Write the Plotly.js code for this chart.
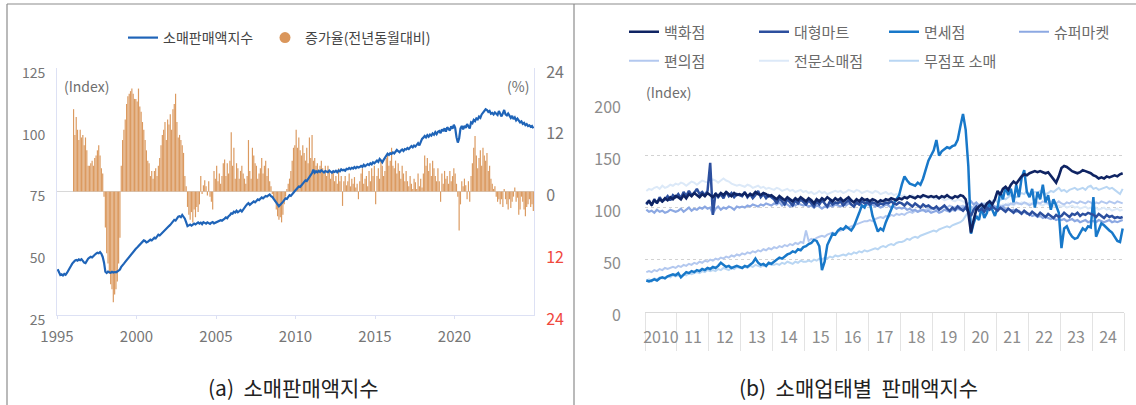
<!DOCTYPE html>
<html>
<head>
<meta charset="utf-8">
<script src="https://cdn.plot.ly/plotly-3.0.1.min.js"></script>
<style>
  html, body { margin: 0; padding: 0; background: #ffffff; }
  #chart { width: 1136px; height: 405px; }
</style>
</head>
<body>
<div id="chart"></div>
<script>
// ---------------- Panel (a): retail sales index (monthly, 1995-01 .. 2024-12) ----------------
const leftStartYear = 1995;
const retailIndex = [
  43.5, 42.0, 41.2, 41.5, 41.0, 41.6, 41.3, 42.0, 42.8, 43.5, 44.8, 45.8,
  46.5, 47.0, 47.3, 47.0, 47.5, 47.2, 47.6, 46.8, 46.2, 46.0, 47.0, 47.8,
  48.2, 48.6, 48.3, 49.0, 49.4, 49.8, 50.2, 50.0, 50.5, 49.8, 48.5, 46.2,
  42.5, 42.0, 42.6, 42.3, 42.1, 42.5, 42.2, 42.4, 42.3, 42.6, 43.0, 43.4,
  44.5, 45.0, 45.8, 46.5, 47.2, 47.8, 48.5, 49.0, 49.8, 50.6, 51.2, 51.8,
  52.3, 52.8, 53.5, 53.9, 54.6, 55.2, 55.0, 54.4, 54.6, 55.2, 55.5, 55.2,
  55.8, 56.3, 56.0, 56.8, 57.5, 57.2, 57.8, 58.4, 58.9, 59.5, 60.0, 60.6,
  61.0, 61.5, 62.2, 62.8, 63.5, 63.2, 64.0, 64.8, 65.0, 64.6, 65.5, 64.8,
  64.0, 62.5, 61.0, 61.3, 61.6, 61.2, 61.8, 62.0, 61.7, 62.2, 62.5, 62.0,
  62.4, 61.8, 62.6, 62.3, 62.0, 62.5, 62.2, 61.9, 62.4, 62.6, 62.1, 62.3,
  62.5, 62.8, 63.0, 63.4, 63.2, 63.8, 64.0, 64.5, 64.2, 65.0, 65.4, 66.2,
  66.0, 66.8, 66.5, 67.2, 66.6, 67.0, 67.5, 66.9, 67.8, 68.5, 69.2, 69.8,
  70.3, 69.6, 70.2, 70.8, 71.0, 70.6, 71.3, 71.8, 71.5, 72.0, 72.6, 72.2,
  72.8, 73.2, 73.0, 73.5, 73.8, 73.1, 72.8, 72.0, 71.4, 70.5, 69.8, 69.0,
  69.5, 70.2, 70.8, 71.5, 72.2, 72.0, 72.8, 73.5, 73.2, 74.0, 74.6, 75.2,
  75.8, 76.5, 77.0, 76.8, 77.6, 78.2, 78.8, 79.5, 79.2, 80.0, 80.8, 81.5,
  82.5, 83.8, 82.6, 83.2, 82.8, 83.4, 82.9, 83.6, 83.1, 82.7, 83.3, 83.0,
  82.8, 83.5, 83.0, 82.6, 83.2, 82.9, 83.4, 82.8, 83.5, 83.2, 84.0, 83.6,
  83.8, 83.4, 84.2, 84.0, 84.5, 84.1, 84.6, 84.3, 84.9, 84.4, 85.0, 84.7,
  84.9, 85.4, 85.0, 85.8, 85.2, 85.6, 86.1, 85.7, 86.4, 86.0, 86.8, 86.4,
  86.9, 87.5, 87.0, 88.2, 87.6, 86.8, 87.8, 88.6, 89.5, 90.3, 89.8, 90.5,
  90.2, 90.8, 90.4, 91.2, 91.8, 91.3, 90.9, 91.6, 92.0, 91.4, 92.2, 92.0,
  92.6, 92.2, 93.0, 93.4, 92.9, 93.6, 93.2, 93.8, 94.6, 93.7, 95.5, 96.3,
  96.8, 97.5, 96.9, 97.8, 97.2, 98.0, 97.6, 98.5, 98.0, 99.0, 98.2, 99.2,
  99.5, 98.6, 100.2, 99.4, 100.6, 99.2, 101.0, 100.3, 99.7, 101.4, 100.4, 102.0,
  100.8, 97.0, 94.8, 96.5, 100.5, 101.5, 100.2, 101.6, 100.8, 102.3, 101.2, 100.5,
  103.0, 102.6, 104.0, 103.5, 104.6, 104.2, 105.3, 104.8, 106.2, 106.8, 107.5, 108.3,
  108.0, 107.2, 107.6, 106.5, 106.8, 106.2, 107.0, 106.4, 106.0, 107.6, 106.5, 105.4,
  106.6, 108.0, 106.2, 105.8, 106.6, 105.5, 104.8, 105.6, 104.3, 105.0, 103.8, 104.5,
  103.6, 103.0, 103.4, 102.4, 102.8, 101.9, 102.3, 101.5, 101.8, 101.2, 101.5, 100.6
];
// YoY growth (%), monthly 1996-01 .. 2024-12
const growthStartYear = 1996;
const growthRate = [
  16, 11, 14.5, 12, 10, 12, 10.5, 11, 9, 10.5, 8, 5,
  5, 5.5, 6, 5, 6.5, 7, 8, 9, 7, 4.5, 3.5, -1,
  -7, -12, -14, -16, -18, -19, -21.5, -20, -19, -17.5, -14, -9,
  5, 10, 12, 14, 17, 18.5, 19, 19.5, 20, 19, 18, 18,
  17.5, 20, 16.5, 15.5, 13.5, 12, 10, 8, 6, 5.5, 3, 4,
  2.5, 4, 4.5, 3, 5, 6.5, 9, 11, 12, 13.5, 10, 14,
  13, 15, 12, 16, 17, 19, 13.5, 10.5, 11, 10, 9, 7.5,
  3, 1, -3, -4.5, -5.5, -4, -6, -3.5, -5, -3, -4, -2.5,
  3, -0.5, 1.2, 2.2, 1, -0.8, 2, -1, -2, -3.5, 4, 2.5,
  5, 2, 3.5, 1.5, 3, 5.5, 6.2, 3, 5.5, 3.5, 6, 11.5,
  5, 8.5, 2.5, 5.5, 4.5, 2.5, 4, 5, 3.5, 2.5, 1.5, 3,
  10, 4, 2.5, 8.5, 7, 5.5, 5, 2.5, 3.5, 4.5, 6.5, 3.5,
  5, 6, 3, 4.5, 2, 1, -0.5, -1.5, -2, -3.5, -4.8, -5.5,
  -5, -6, -4.5, -2.5, -1, 0.5, 1.5, 2.5, 4, 6, 8.5, 9,
  12, 8.5, 10.5, 8, 7, 9, 7.5, 6, 8.5, 5.5, 10.5, 6.5,
  11, 6, 6.5, 5, 5.5, 4, 5, 6, 4.5, 3.5, 5, 3,
  5, 4, 2.5, 3.5, 4, 2, 3, 1.5, 4.5, 2, 3, -2.8,
  2, 3, 1.2, 2, 3.5, 1, 2.5, 1.5, 2.8, 0.8, 1.5, -1.5,
  2, 3.5, 4.5, 1.5, 2.5, 3, 1, 4, 2, 4.5, 3, 5,
  -2.5, 3, 4.5, 2.5, 6, 5, 3, 4, 6.5, 7.5, 5, 6,
  8.5, 5, 4.5, 6, 3.5, 5.5, 4, 2.5, 5, 3.5, 2, 4,
  2, 1, 3, 1.5, 0.5, 2.5, 1.8, 0.5, 3.5, 1, 2.5, 0.8,
  3.5, 7, 5, 6.5, 4, 5.5, 3, 6, 4.5, 3, 2, 4.5,
  2, -2, 3.5, 1.5, 4, 2.5, 3, 1.5, 4, 2, 3, 4.5,
  3.5, 1.5, -1, -7.6, -2.5, 2, 1, 2.5, 1.2, -1.5, 2, -2,
  3, 5.5, 8.5, 10.8, 7, 4.5, 6.5, 8, 5, 8.5, 7, 6,
  7.5, 4, 5, 2.5, 1.5, 0.5, 1, -1, -2, -1.5, -2.5, -1.5,
  -3, 0.5, -1.5, -2.5, -3.5, -1.5, -3.2, -2, -1, 0.8, -2, -1.2,
  -4.5, -3.5, -1, -2, -3.5, -4.8, -3, -2.5, -1.5, -3, -2.5, -3.8
];
const leftTickYears = [1995, 2000, 2005, 2010, 2015, 2020];
const leftTickLabels = ['1995', '2000', '2005', '2010', '2015', '2020'];
const pctTickVals = [24, 12, 0, -12, -24];
const pctTickLabels = ['24', '12', '0', '12', '24'];

// ---------------- Panel (b): sales index by retail type (monthly, 2010-01 .. 2024-12) ----------------
const rightStartYear = 2010;
const typeNames = ['백화점', '대형마트', '면세점', '슈퍼마켓', '편의점', '전문소매점', '무점포 소매'];
const deptStore = [
  104,106,103,107,105,108,106,109,107,110,108,111,
  110,108,112,109,113,111,114,112,110,113,111,114,
  112,110,113,111,114,112,115,113,111,114,112,113,
  112,114,111,113,112,115,113,112,114,113,111,112,
  110,108,111,109,107,110,108,106,109,107,110,108,
  106,109,107,104,108,106,109,107,110,108,106,109,
  107,109,106,108,110,107,105,108,106,109,107,108,
  106,108,107,105,107,106,108,107,109,108,107,109,
  108,110,109,111,110,109,111,110,112,111,110,111,
  110,111,109,111,110,112,110,109,111,110,112,111,
  108,95,76,88,98,101,103,100,104,106,103,108,
  116,112,118,120,117,122,125,123,127,130,132,131,
  133,134,135,134,135,134,133,134,131,127,124,130,
  138,140,139,137,135,134,133,134,136,135,134,133,
  131,130,128,129,128,130,129,130,131,130,132,133
];
const bigMart = [
  103,107,102,108,104,110,106,108,111,107,112,110,
  113,109,115,111,116,112,114,118,113,115,112,116,
  143,93,114,110,113,109,115,111,114,110,113,112,
  111,115,110,113,109,112,116,110,113,109,112,110,
  108,104,109,106,103,108,105,102,107,104,108,105,
  103,107,104,101,106,103,107,104,101,106,103,105,
  104,106,102,105,107,103,101,105,103,106,104,105,
  103,105,104,102,104,103,105,104,106,104,103,105,
  104,102,105,103,101,104,102,100,103,101,102,100,
  99,101,98,100,102,99,97,100,98,101,99,97,
  100,96,92,98,101,97,99,96,100,98,101,99,
  97,100,98,96,99,97,95,98,96,94,97,95,
  93,96,94,92,95,93,91,94,92,90,93,91,
  92,95,93,91,94,93,95,92,94,93,95,94,
  93,91,94,92,90,93,91,92,90,91,90,91
];
const dutyFree = [
  30,29,30,31,30,32,33,32,34,35,36,35,
  37,33,36,38,37,39,38,40,39,41,40,42,
  41,43,42,44,47,45,43,44,42,43,44,43,
  42,44,43,45,47,51,47,45,46,44,47,46,
  48,50,52,51,53,55,56,58,57,60,59,62,
  63,65,66,69,68,63,40,48,64,70,75,74,
  78,80,79,82,80,78,82,88,95,102,100,106,
  105,92,85,77,80,78,86,92,98,104,108,112,
  122,130,126,123,122,121,124,122,128,136,145,150,
  155,165,150,154,156,158,157,159,160,165,178,190,
  175,140,75,85,92,88,100,90,95,105,98,92,
  100,115,108,120,112,118,105,122,110,128,136,115,
  110,118,100,115,108,122,105,112,98,108,102,95,
  61,80,82,76,72,70,71,76,80,78,82,81,
  110,72,78,85,83,80,78,76,72,68,67,80
];
const superMarket = [
  98,96,97,95,98,96,97,95,96,98,97,96,
  97,99,96,98,100,97,99,98,100,99,101,99,
  100,94,99,101,98,100,99,101,100,98,101,100,
  101,100,102,101,103,102,101,103,102,104,103,102,
  104,103,105,102,104,103,101,103,102,104,103,102,
  103,101,102,100,102,101,99,101,100,102,101,103,
  102,101,103,102,104,103,102,104,103,102,101,103,
  102,103,101,102,100,101,103,102,100,101,99,100,
  99,100,98,99,97,98,96,97,98,96,97,95,
  96,97,95,96,98,97,96,98,97,99,98,100,
  101,104,106,103,105,102,104,101,103,100,102,101,
  100,99,101,98,99,97,98,96,97,95,96,94,
  94,92,93,91,92,90,91,90,89,90,88,89,
  88,89,87,88,89,87,88,86,87,88,86,87,
  87,86,88,87,86,87,88,86,87,86,87,88
];
const convStore = [
  38,39,38,40,39,41,40,42,41,42,43,42,
  44,43,45,44,46,45,47,46,48,47,49,48,
  50,49,51,50,52,51,53,52,54,53,55,54,
  56,55,57,56,58,57,59,58,60,59,61,60,
  62,61,63,62,64,63,65,64,66,65,67,66,
  78,68,70,69,71,72,73,72,74,75,76,75,
  77,78,79,80,81,82,83,84,85,86,87,87,
  88,87,89,90,91,90,92,91,93,92,94,93,
  94,93,95,96,95,97,96,98,97,98,99,98,
  99,98,100,99,101,100,102,101,100,102,101,102,
  100,99,101,100,103,102,104,103,101,102,103,101,
  100,102,101,103,102,104,103,105,104,103,105,104,
  102,104,103,105,104,106,105,104,106,105,104,106,
  104,103,105,104,106,105,104,106,105,104,106,105,
  103,105,104,106,105,104,106,105,104,106,105,104
];
const specialtyStore = [
  116,118,117,119,120,118,121,119,120,122,121,123,
  122,124,123,121,123,125,124,122,124,126,125,124,
  125,127,126,124,126,128,126,125,123,122,121,122,
  121,120,122,121,119,120,121,119,120,118,119,118,
  117,119,118,116,117,118,116,117,115,116,117,115,
  116,114,115,113,114,116,114,115,113,114,115,116,
  115,116,114,115,117,116,115,117,116,114,115,116,
  115,114,116,115,113,114,115,113,114,112,113,112,
  111,112,110,111,112,110,111,109,110,111,109,110,
  109,108,110,109,107,108,109,107,106,108,107,106,
  104,98,93,97,100,101,99,100,102,101,100,99,
  100,101,103,102,104,103,102,104,103,105,104,103,
  104,103,105,104,103,102,104,103,102,101,103,102,
  101,102,100,101,102,100,101,99,100,101,99,100,
  99,100,98,99,100,98,99,97,98,99,97,98
];
const nonStore = [
  30,31,29,32,31,33,32,33,34,33,35,34,
  35,34,36,35,37,36,37,38,37,39,38,40,
  39,40,39,41,40,42,41,40,42,41,43,42,
  42,43,42,44,43,45,44,43,45,44,46,45,
  45,46,45,47,46,48,47,46,48,47,49,48,
  48,49,48,50,49,51,50,52,51,53,52,54,
  53,54,55,54,56,55,57,56,58,57,59,58,
  59,60,61,60,62,63,62,64,65,64,66,67,
  67,68,70,69,71,72,71,73,74,75,76,77,
  78,77,79,80,81,82,81,83,84,85,86,88,
  92,96,98,100,101,99,102,104,103,105,106,108,
  105,107,109,108,110,112,111,110,112,114,113,116,
  112,113,115,114,116,115,113,114,116,115,117,119,
  116,117,115,117,118,119,117,118,119,117,120,121,
  118,119,117,118,119,120,118,119,117,115,113,118
];
const rightTickLabels = ['2010','11','12','13','14','15','16','17','18','19','20','21','22','23','24'];

// ---------------- helpers (x positions only) ----------------
function monthX(startYear, n) {
  const out = [];
  for (let i = 0; i < n; i++) out.push(startYear + (i + 0.5) / 12);
  return out;
}
const W = 1136, H = 405;
const px = v => v / W;
const py = v => 1 - v / H;

const negColor = '#f0483e';
const pctText = pctTickLabels.map((t, i) => pctTickVals[i] < 0 ? '<span style="color:' + negColor + '">' + t + '</span>' : t);

const traces = [];
traces.push({
  type: 'bar', x: monthX(growthStartYear, growthRate.length), y: growthRate,
  xaxis: 'x', yaxis: 'y', marker: { color: '#db9a60', line: { width: 0 } },
  showlegend: false, hoverinfo: 'skip'
});
traces.push({
  type: 'scatter', mode: 'lines', name: '소매판매액지수',
  x: monthX(leftStartYear, retailIndex.length), y: retailIndex,
  xaxis: 'x', yaxis: 'y2', line: { color: '#1f64b8', width: 2.2 },
  legend: 'legend'
});
traces.push({
  type: 'scatter', mode: 'markers', name: '증가율(전년동월대비)',
  x: [null], y: [null], xaxis: 'x', yaxis: 'y2',
  marker: { color: '#da965b', size: 11, symbol: 'circle' },
  legend: 'legend9'
});

// right panel lines (light ones drawn first); each legend entry gets its own legend box
const rightSeries = [
  { name: typeNames[6], data: nonStore,       color: '#b9d6f3', width: 2.0, legend: 'legend8' },
  { name: typeNames[5], data: specialtyStore, color: '#dce9f8', width: 2.0, legend: 'legend7' },
  { name: typeNames[4], data: convStore,      color: '#b3c8ef', width: 2.0, legend: 'legend6' },
  { name: typeNames[3], data: superMarket,    color: '#8ca8e2', width: 2.2, legend: 'legend5' },
  { name: typeNames[2], data: dutyFree,       color: '#1878c9', width: 2.5, legend: 'legend4' },
  { name: typeNames[1], data: bigMart,        color: '#2c4f9e', width: 2.5, legend: 'legend3' },
  { name: typeNames[0], data: deptStore,      color: '#0f2463', width: 2.6, legend: 'legend2' }
];
rightSeries.forEach(s => {
  traces.push({
    type: 'scatter', mode: 'lines', name: s.name,
    x: monthX(rightStartYear, s.data.length), y: s.data,
    xaxis: 'x2', yaxis: 'y3', line: { color: s.color, width: s.width },
    legend: s.legend
  });
});

const rightTickVals = rightTickLabels.map((_, i) => rightStartYear + i + 0.5);
const rightBoundaries = [];
for (let i = 0; i <= rightTickLabels.length; i++) rightBoundaries.push(rightStartYear + i);

const axisLav = '#dde1f4';
const font = 'Noto Sans CJK KR, Noto Sans, sans-serif';

function legendBox(textLeft, yCenter, size, color) {
  return {
    orientation: 'h', x: px(textLeft - 42), y: py(yCenter), xanchor: 'left', yanchor: 'middle',
    font: { family: font, size: size, color: color }, bgcolor: 'rgba(0,0,0,0)', borderwidth: 0
  };
}

const layout = {
  width: W, height: H,
  margin: { l: 0, r: 0, t: 0, b: 0, pad: 0 },
  paper_bgcolor: '#ffffff', plot_bgcolor: 'rgba(0,0,0,0)',
  font: { family: font, size: 14, color: '#7a7a7a' },
  bargap: 0.1,
  hovermode: false,
  xaxis: {
    domain: [px(57), px(534)], range: [1995, 2025], anchor: 'y',
    tickmode: 'array', tickvals: leftTickYears, ticktext: leftTickLabels,
    showline: true, linecolor: axisLav, linewidth: 1,
    ticks: 'outside', ticklen: 3, tickcolor: axisLav,
    showgrid: false, zeroline: false,
    tickfont: { size: 15, color: '#767676' }, ticklabelstandoff: 5
  },
  yaxis: {
    domain: [py(315), py(68)], range: [-24, 24], anchor: 'x', side: 'right',
    tickmode: 'array', tickvals: pctTickVals, ticktext: pctText,
    showline: true, linecolor: axisLav, ticks: '', showgrid: false,
    zeroline: true, zerolinecolor: '#d8d8d8', zerolinewidth: 1,
    tickfont: { size: 16, color: '#767676' }, ticklabelstandoff: 8, ticklabelshift: 4
  },
  yaxis2: {
    overlaying: 'y', side: 'left', anchor: 'x', range: [25, 125],
    tickmode: 'linear', tick0: 25, dtick: 25,
    showline: true, linecolor: axisLav, ticks: '', showgrid: false, zeroline: false,
    tickfont: { size: 14, color: '#767676' }, ticklabelstandoff: 8, ticklabelshift: 5
  },
  xaxis2: {
    domain: [px(645), px(1124)], range: [2010, 2025], anchor: 'y3',
    tickmode: 'array', tickvals: rightTickVals, ticktext: rightTickLabels,
    ticks: '', showline: true, linecolor: '#d9d9d9', linewidth: 1,
    showgrid: false, zeroline: false,
    minor: { tickmode: 'array', tickvals: rightBoundaries, ticks: 'outside', ticklen: 38, tickwidth: 1, tickcolor: '#e3e3e3', showgrid: false },
    tickfont: { size: 16, color: '#8c8c8c' }, ticklabelstandoff: 11
  },
  yaxis3: {
    domain: [py(311.7), py(103.5)], range: [0, 200], anchor: 'x2',
    tickmode: 'linear', tick0: 0, dtick: 50,
    showgrid: true, gridcolor: '#d2d2d2', griddash: 'dot', gridwidth: 1,
    zeroline: false, showline: false, ticks: '',
    tickfont: { size: 16, color: '#8c8c8c' }, ticklabelstandoff: 23, ticklabelshift: 4
  },
  legend:  legendBox(165, 38, 14, '#444444'),
  legend9: legendBox(307, 38, 14, '#444444'),
  legend2: legendBox(666, 32, 15, '#6a6a6a'),
  legend3: legendBox(796, 32, 15, '#6a6a6a'),
  legend4: legendBox(926, 32, 15, '#6a6a6a'),
  legend5: legendBox(1056, 32, 15, '#6a6a6a'),
  legend6: legendBox(666, 61, 15, '#6a6a6a'),
  legend7: legendBox(796, 61, 15, '#6a6a6a'),
  legend8: legendBox(926, 61, 15, '#6a6a6a'),
  annotations: [
    { xref: 'paper', yref: 'paper', x: px(62), y: py(86), xanchor: 'left', yanchor: 'middle', showarrow: false,
      text: '(Index)', font: { family: font, size: 14, color: '#6e6e6e' } },
    { xref: 'paper', yref: 'paper', x: px(531), y: py(86), xanchor: 'right', yanchor: 'middle', showarrow: false,
      text: '(%)', font: { family: font, size: 14, color: '#6e6e6e' } },
    { xref: 'paper', yref: 'paper', x: px(644), y: py(92), xanchor: 'left', yanchor: 'middle', showarrow: false,
      text: '(Index)', font: { family: font, size: 14, color: '#6e6e6e' } },
    { xref: 'paper', yref: 'paper', x: px(293), y: py(387), xanchor: 'center', yanchor: 'middle', showarrow: false,
      text: '(a)\u00a0\u00a0소매판매액지수', font: { family: font, size: 21, color: '#222222' } },
    { xref: 'paper', yref: 'paper', x: px(858), y: py(387), xanchor: 'center', yanchor: 'middle', showarrow: false,
      text: '(b)\u00a0\u00a0소매업태별\u00a0\u00a0판매액지수', font: { family: font, size: 21, color: '#222222' } }
  ],
  shapes: [
    { type: 'line', xref: 'paper', yref: 'paper', x0: px(7), x1: 1, y0: py(4), y1: py(4), line: { color: '#8c8c8c', width: 1.2 } },
    { type: 'line', xref: 'paper', yref: 'paper', x0: px(7), x1: px(7), y0: 0, y1: py(4), line: { color: '#8c8c8c', width: 1.2 } },
    { type: 'line', xref: 'paper', yref: 'paper', x0: px(574), x1: px(574), y0: 0, y1: py(4), line: { color: '#8c8c8c', width: 1.2 } }
  ]
};

Plotly.newPlot('chart', traces, layout, { staticPlot: true, displayModeBar: false });
</script>
</body>
</html>
